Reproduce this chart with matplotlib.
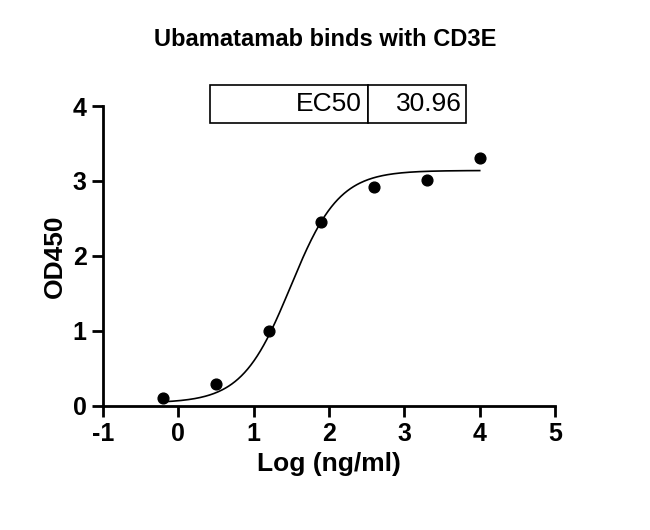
import numpy as np
import matplotlib
matplotlib.use("Agg")
import matplotlib.pyplot as plt

plt.rcParams['font.family'] = ['Liberation Sans', 'DejaVu Sans']
plt.rcParams['axes.unicode_minus'] = False

log_conc = [-0.2, 0.5, 1.2, 1.9, 2.6, 3.3, 4.0]
od450 = [0.10, 0.29, 1.00, 2.45, 2.92, 3.01, 3.30]
ec50 = 30.96
fit_bottom, fit_top, fit_hill = 0.04, 3.14, 1.35

fig = plt.figure(figsize=(6.5, 5.3), dpi=100)
ax = fig.add_axes([0.158, 0.234, 0.696, 0.566])

xs = np.linspace(-0.2, 4.0, 300)
ys = fit_bottom + (fit_top - fit_bottom) / (1 + 10 ** ((np.log10(ec50) - xs) * fit_hill))
ax.plot(xs, ys, color='black', lw=1.2)
ax.scatter(log_conc, od450, s=60, color='black', zorder=3)

ax.set_xlim(-1, 5)
ax.set_ylim(0, 4)
ax.set_xticks(range(-1, 6))
ax.set_yticks(range(0, 5))
for s in ['top', 'right']:
    ax.spines[s].set_visible(False)
for s in ['left', 'bottom']:
    ax.spines[s].set_linewidth(2)
ax.tick_params(width=2, length=8, labelsize=18)
for lab in ax.get_xticklabels() + ax.get_yticklabels():
    lab.set_fontweight('bold')
ax.set_xlabel('Log (ng/ml)', fontsize=19, fontweight='bold')
ax.set_ylabel('OD450', fontsize=19, fontweight='bold')
fig.text(0.5, 0.925, 'Ubamatamab binds with CD3E', ha='center', va='center', fontsize=17, fontweight='bold')

tab = ax.table(cellText=[['EC50', f'{ec50:.2f}']], cellLoc='right',
               colWidths=[0.35, 0.215], bbox=[0.237, 0.943, 0.565, 0.127])
tab.auto_set_font_size(False)
for (r, c), cell in tab.get_celld().items():
    cell.set_linewidth(1.2)
    cell.get_text().set_fontsize(19)
    cell.PAD = 0.04
    cell.set_facecolor('white')
tab.set_zorder(5)

fig.savefig('out.png', dpi=100)
